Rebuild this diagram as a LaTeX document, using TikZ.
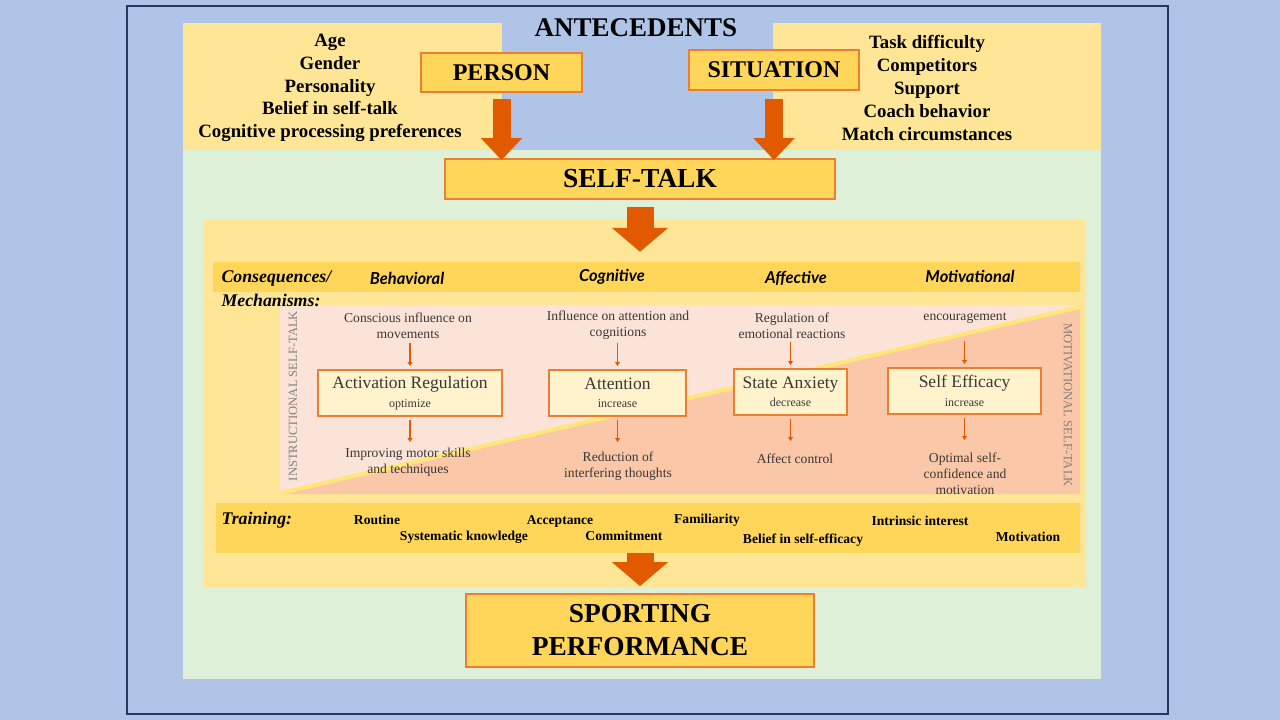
\documentclass[tikz,border=0pt]{standalone}
\usepackage{fontspec}
\setmainfont{Liberation Serif}
\newfontfamily\catfont{Lato}
\usetikzlibrary{arrows.meta,calc}

\definecolor{bgblue}{RGB}{175,196,230}
\definecolor{framenavy}{RGB}{31,56,100}
\definecolor{lightyellow}{RGB}{255,230,150}
\definecolor{palegreen}{RGB}{223,240,216}
\definecolor{boxgold}{RGB}{255,214,90}
\definecolor{boxorange}{RGB}{237,125,49}
\definecolor{arroworange}{RGB}{226,90,0}
\definecolor{lightpink}{RGB}{252,227,216}
\definecolor{salmon}{RGB}{250,200,168}
\definecolor{cream}{RGB}{255,243,206}
\definecolor{diagyellow}{RGB}{255,230,120}
\definecolor{darktext}{RGB}{60,55,55}

\tikzset{
  mainbox/.style={draw=boxorange, line width=1.8pt, fill=boxgold, align=center,
    font=\bfseries\fontsize{24}{26}\selectfont},
  mechbox/.style={draw=boxorange, line width=2pt, fill=cream, align=center, text=darktext,
    font=\fontsize{17.5}{18.5}\selectfont, inner sep=0pt},
  smalltext/.style={align=center, text=darktext, font=\fontsize{13.6}{15.8}\selectfont},
  listtext/.style={align=center, font=\bfseries\fontsize{18.8}{22.8}\selectfont},
  cattext/.style={font=\catfont\bfseries\itshape\fontsize{16.5}{18}\selectfont},
  rowlabel/.style={anchor=west, font=\bfseries\itshape\fontsize{17.8}{20}\selectfont},
  trainitem/.style={font=\bfseries\fontsize{13.6}{15}\selectfont},
  sidelabel/.style={text=gray, font=\fontsize{12.6}{14}\selectfont},
  bigarrow/.style={draw=arroworange, line width=18pt, -{Triangle[width=40pt,length=22pt]}},
  widearrow/.style={draw=arroworange, line width=27pt, -{Triangle[width=55pt,length=24pt]}},
  smallarrow/.style={draw=arroworange, line width=1.4pt, -{Triangle[width=5pt,length=4pt]}}
}

\newcommand{\subline}[1]{{\fontsize{12}{13}\selectfont #1}}

\begin{document}
\begin{tikzpicture}[x=1pt, y=-1pt]
    \useasboundingbox (0,0) rectangle (1280,720);

    % Background and frame
    \fill[bgblue] (0,0) rectangle (1280,720);
    \draw[framenavy, line width=2.5pt] (127,6) rectangle (1168,714);
    \fill[palegreen] (183,150) rectangle (1101,679);
    \fill[lightyellow] (183,23) rectangle (502,150);
    \fill[lightyellow] (773,23) rectangle (1101,150);

    % Antecedents
    \node[font=\bfseries\fontsize{27}{30}\selectfont] (antec) at (636,28) {ANTECEDENTS};
    \node[listtext] (personlist) at (330,88) {Age\\Gender\\Personality\\Belief in self-talk\\Cognitive processing preferences};
    \node[listtext] (situlist) at (927,88) {Task difficulty\\Competitors\\Support\\Coach behavior\\Match circumstances};
    \node[mainbox, minimum width=161pt, minimum height=39pt] (person) at (501.5,72.5) {PERSON};
    \node[mainbox, minimum width=170pt, minimum height=40pt] (situ) at (774,70) {SITUATION};

    % Self-talk
    \node[mainbox, minimum width=390pt, minimum height=40pt, font=\bfseries\fontsize{27.5}{30}\selectfont] (selftalk) at (640,179) {SELF-TALK};
    \draw[bigarrow] ([yshift=-6pt]person.south) -- ([yshift=-2pt]person.south |- selftalk.north);
    \draw[bigarrow] ([yshift=-8pt]situ.south) -- ([yshift=-2pt]situ.south |- selftalk.north);

    % Consequences / mechanisms area
    \node[fill=lightyellow, minimum width=882pt, minimum height=367pt, inner sep=0pt] (mech) at (645,403.5) {};
    \draw[widearrow] ([yshift=-7pt]selftalk.south) -- ([yshift=-32pt]selftalk.south |- mech.north);
    \node[fill=boxgold, minimum width=867pt, minimum height=30pt, inner sep=0pt] (hdr) at (646.5,277) {};

    % Instructional / motivational triangles
    \fill[lightpink] (280,305) -- (1080,305) -- (1080,307) -- (280,494) -- cycle;
    \fill[salmon] (1080,307) -- (1080,494) -- (280,494) -- cycle;
    \draw[diagyellow, line width=4pt] (281,493) -- (1080,307);
    \node[sidelabel, rotate=90] (instr) at (293,396) {INSTRUCTIONAL SELF-TALK};
    \node[sidelabel, rotate=-90] (motiv) at (1068,405) {MOTIVATIONAL SELF-TALK};

    \node[rowlabel] (conseq) at (218,278) {Consequences/};
    \node[rowlabel] (mechan) at (218,300) {Mechanisms:};
    \node[cattext] (behav) at (407,278) {Behavioral};
    \node[cattext] (cogn) at (612,277) {Cognitive};
    \node[cattext] (affec) at (796,278) {Affective};
    \node[cattext] (motivc) at (970,276) {Motivational};

    % Influence texts
    \node[smalltext] (inA) at (408,325.5) {Conscious influence on\\movements};
    \node[smalltext] (inB) at (618,325.5) {Influence on attention and\\cognitions};
    \node[smalltext] (inC) at (792,325.5) {Regulation of\\emotional reactions};
    \node[smalltext] (inD) at (965,318) {encouragement};

    % Mechanism boxes
    \node[mechbox, minimum width=184pt, minimum height=46pt] (actreg) at (410,393) {Activation Regulation\\\subline{optimize}};
    \node[mechbox, minimum width=137pt, minimum height=46pt] (attn) at (617.5,393) {Attention\\\subline{increase}};
    \node[mechbox, minimum width=113pt, minimum height=46pt] (anx) at (790.5,392) {State Anxiety\\\subline{decrease}};
    \node[mechbox, minimum width=153pt, minimum height=46pt] (effic) at (964.5,391) {Self Efficacy\\\subline{increase}};

    % Outcome texts
    \node[smalltext] (outA) at (408,462) {Improving motor skills\\and techniques};
    \node[smalltext] (outB) at (618,466) {Reduction of\\interfering thoughts};
    \node[smalltext] (outC) at (795,459) {Affect control};
    \node[smalltext] (outD) at (965,474) {Optimal self-\\confidence and\\motivation};

    \foreach \b in {actreg,attn,anx,effic} {
        \draw[smallarrow] ([yshift=26pt]\b.north) -- ([yshift=3pt]\b.north);
        \draw[smallarrow] ([yshift=-3pt]\b.south) -- ([yshift=-25pt]\b.south);
    }

    % Training
    \node[fill=boxgold, minimum width=864pt, minimum height=50pt, inner sep=0pt] (train) at (648,528) {};
    \node[rowlabel] (trainlbl) at (218,520) {Training:};
    \node[trainitem] (t1) at (377,520) {Routine};
    \node[trainitem] (t2) at (464,537) {Systematic knowledge};
    \node[trainitem] (t3) at (560,521) {Acceptance};
    \node[trainitem] (t4) at (624,536) {Commitment};
    \node[trainitem] (t5) at (707,520) {Familiarity};
    \node[trainitem] (t6) at (803,540) {Belief in self-efficacy};
    \node[trainitem] (t7) at (920,521) {Intrinsic interest};
    \node[trainitem] (t8) at (1028,537) {Motivation};

    % Sporting performance
    \node[mainbox, minimum width=348pt, minimum height=73pt, font=\bfseries\fontsize{27.4}{33}\selectfont] (sport) at (640,630.5) {SPORTING\\PERFORMANCE};
    \draw[widearrow] (train.south -| sport) -- ([yshift=7pt]sport.north);
\end{tikzpicture}
\end{document}
